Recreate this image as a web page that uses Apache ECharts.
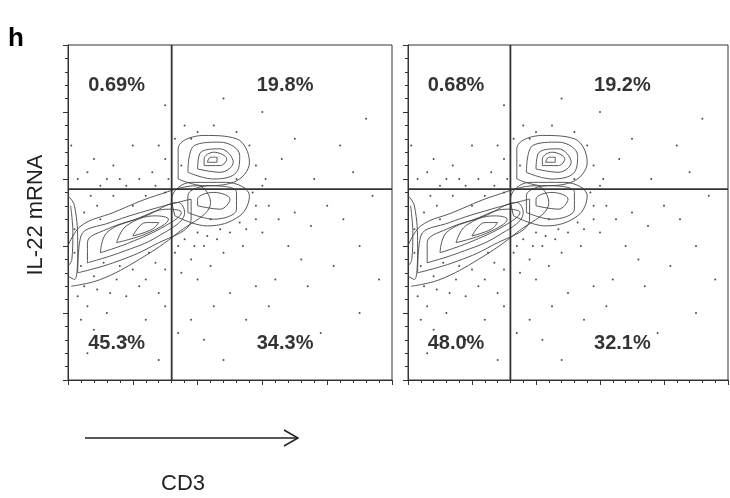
<!DOCTYPE html><html><head><meta charset="utf-8">
<script src="https://cdn.jsdelivr.net/npm/echarts@6/dist/echarts.min.js"></script>
<style>html,body{margin:0;padding:0;background:#fff}#c{width:730px;height:498px}</style></head>
<body><div id="c"></div><script>
const panels=[{labels:['0.69%','19.8%','45.3%','34.3%']},{labels:['0.68%','19.2%','48.0%','32.1%']}];
const labelPos=[[15,88],[67,88],[15,11],[67,11]];
const gateX=32, gateY=57;
const contours=[
[[1,28],[10,30],[22,36],[34,44],[44,53],[40,58],[27,55],[14,50],[4,46],[0,40]],
[[3,32],[14,35],[26,40],[38,48],[38,54],[26,51],[13,47],[4,43],[3,32]],
[[6,35],[16,38],[28,43],[36,50],[34,53],[24,49],[12,45],[6,41],[6,35]],
[[10,38],[19,41],[30,46],[35,50],[31,51],[21,48],[12,44],[10,38]],
[[15,41],[25,44],[31,48],[27,49],[18,46],[15,41]],
[[20,43],[26,45],[28,47],[24,47],[20,43]],
[[34,60],[42,58],[51,59],[56,65],[52,72],[42,73],[34,69],[34,60]],
[[37,62],[45,60],[52,62],[53,67],[47,71],[39,70],[37,62]],
[[40,63],[47,62],[51,65],[47,69],[41,68],[40,63]],
[[42,64],[47,64],[49,66],[45,68],[42,66],[42,64]],
[[43,65],[46,65],[46,66.5],[44,66.5],[43,65]],
[[33,49],[43,46],[53,49],[56,55],[49,59],[38,59],[32,54],[33,49]],
[[37,50],[45,48],[52,51],[52,56],[44,58],[37,55],[37,50]],
[[40,52],[47,51],[50,54],[45,56],[40,54],[40,52]],
[[0,31],[2,30],[3,40],[2,52],[0,55]],
[[0,34],[1.2,36],[1.5,44],[0.8,52]]
];
const dots=[[3,25],[6,22],[9,27],[12,20],[15,30],[4,18],[8,15],[18,25],[20,33],[24,30],[27,35],[11,35],[2,45],[5,50],[7,55],[3,60],[10,58],[14,55],[18,58],[22,60],[26,62],[30,66],[28,70],[33,72],[36,76],[40,74],[45,76],[52,74],[56,70],[58,64],[60,58],[62,52],[58,48],[55,45],[50,44],[46,42],[42,40],[38,36],[35,32],[40,30],[44,34],[48,38],[54,40],[60,44],[65,48],[70,50],[75,46],[80,52],[85,48],[68,40],[72,36],[64,30],[58,28],[50,26],[45,22],[38,18],[34,14],[42,12],[55,18],[62,22],[74,28],[82,34],[90,40],[94,55],[88,62],[76,60],[66,66],[70,72],[84,70],[92,78],[60,80],[48,84],[30,82],[20,70],[14,64],[8,66],[1,70],[24,18],[30,22],[18,12],[6,8],[28,6],[48,6],[78,14],[90,20],[96,30],[20,52],[16,60],[30,56],[34,40],[28,26],[10,48],[52,60],[57,56],[44,48],[40,44],[5,28],[8,31],[13,26],[16,34],[22,28],[25,38],[30,33],[33,38],[36,42],[31,60],[27,58],[24,55],[35,64],[38,72],[53,47],[58,52],[61,60],[47,45],[43,43],[39,40],[9,52],[12,60],[6,62],[4,34],[2,38]];
const chart=echarts.init(document.getElementById('c'));
const grids=[{left:68,top:45,width:324,height:335},{left:408,top:45,width:320,height:335}];
const xAxis=[],yAxis=[],series=[];
panels.forEach((p,i)=>{
 const ax={gridIndex:i,min:0,max:100,interval:20,axisLabel:{show:false},splitLine:{show:false},
  axisLine:{lineStyle:{color:'#333'}},axisTick:{inside:false,length:5,lineStyle:{color:'#333'}},
  minorTick:{show:true,splitNumber:5,length:3,lineStyle:{color:'#333'}}};
 xAxis.push(Object.assign({type:'value'},ax));
 yAxis.push(Object.assign({type:'value'},ax));
 contours.forEach(c=>series.push({type:'line',xAxisIndex:i,yAxisIndex:i,data:c,smooth:0.4,symbol:'none',silent:true,
  lineStyle:{color:'#444',width:0.9}}));
 series.push({type:'scatter',xAxisIndex:i,yAxisIndex:i,data:dots,symbolSize:2,itemStyle:{color:'#222'},silent:true});
 series.push({type:'line',xAxisIndex:i,yAxisIndex:i,data:[[gateX,0],[gateX,100]],symbol:'none',lineStyle:{color:'#333',width:1.8}});
 series.push({type:'line',xAxisIndex:i,yAxisIndex:i,data:[[0,gateY],[100,gateY]],symbol:'none',lineStyle:{color:'#333',width:1.8}});
 series.push({type:'scatter',xAxisIndex:i,yAxisIndex:i,symbolSize:0,
  data:labelPos.map((q,k)=>({value:q,name:p.labels[k]})),
  label:{show:true,formatter:'{b}',position:'inside',fontFamily:'Liberation Sans',fontWeight:'bold',fontSize:20,color:'#000'}});
});
chart.setOption({animation:false,
 grid:grids.map(g=>Object.assign({show:true,borderColor:'#333',borderWidth:1},g)),
 xAxis,yAxis,series,
 graphic:[
  {type:'text',left:8,top:26,style:{text:'h',font:'bold 26px Liberation Sans',fill:'#000'}},
  {type:'text',x:36,y:215,rotation:Math.PI/2,style:{text:'IL-22 mRNA',font:'22px Liberation Sans',fill:'#222',align:'center',verticalAlign:'middle'}},
  {type:'line',shape:{x1:85,y1:438,x2:298,y2:438},style:{stroke:'#222',lineWidth:1.5}},
  {type:'polyline',shape:{points:[[284,430],[298,438],[284,446]]},style:{stroke:'#222',lineWidth:1.5,fill:null}},
  {type:'text',x:183,y:484,style:{text:'CD3',font:'22px Liberation Sans',fill:'#222',align:'center',verticalAlign:'middle'}}
 ]});
</script></body></html>
